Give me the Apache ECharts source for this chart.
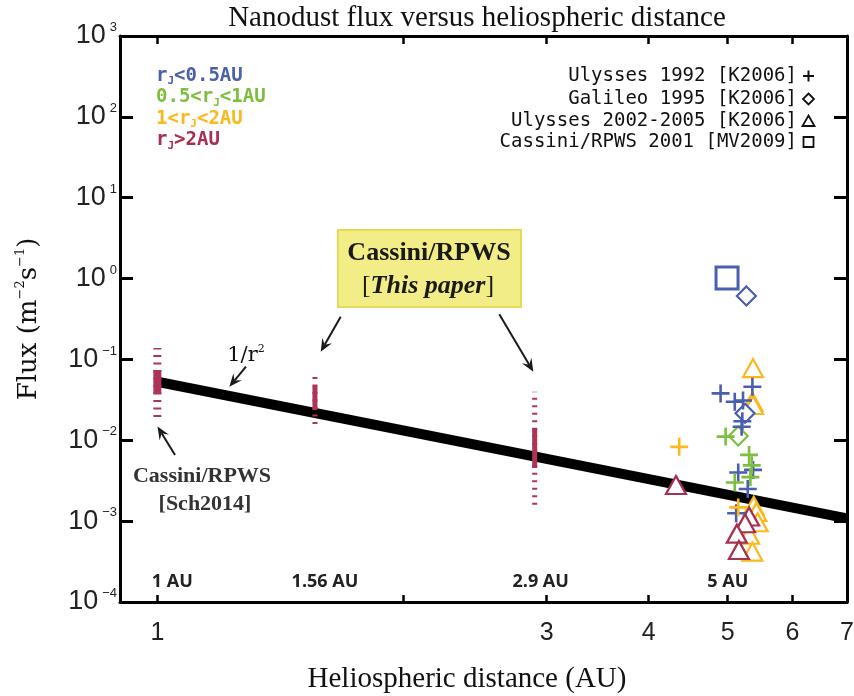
<!DOCTYPE html>
<html>
<head>
<meta charset="utf-8">
<script src="https://cdn.jsdelivr.net/npm/echarts@6/dist/echarts.min.js"></script>
<style>
html,body{margin:0;padding:0;background:#fff;}
#chart{width:854px;height:696px;}
</style>
</head>
<body>
<div id="chart"></div>
<script>
// ---- Cassini/RPWS flux ranges (this paper): distance, solid core range, full dashed range
const cassiniR      = [1, 1.56, 2.9];
const cassiniCoreLo = [0.0374, 0.0237, 0.00454];
const cassiniCoreHi = [0.074, 0.0473, 0.0142];
const cassiniFullLo = [0.0194, 0.0159, 0.00159];
const cassiniFullHi = [0.138, 0.0705, 0.0399];

// ---- 1/r^2 reference line (end points)
const inverseSquareR    = [1, 7];
const inverseSquareFlux = [0.053, 0.00108];

// ---- Earlier measurements near 5 AU: [distance AU, flux m^-2 s^-1]
// grouped by Jovian distance r_J
const ulysses1992Near   = [[4.90,0.038],[5.36,0.046],[5.10,0.030],[5.22,0.031],[5.21,0.0172],[5.20,0.0147],
                           [5.15,0.0040],[5.37,0.0043],[5.29,0.0025],[5.12,0.00125]];
const ulysses1992Mid    = [[4.97,0.0111],[5.31,0.0066],[5.35,0.0049],[5.33,0.0035],[5.10,0.0030]];
const ulysses1992Far    = [[4.36,0.0083],[5.15,0.00148]];
const galileo1995Near   = [[5.27,0.61],[5.25,0.0216]];
const galileo1995Mid    = [[5.15,0.0113]];
const ulysses0205Far    = [[5.37,0.078],[5.36,0.030],[5.37,0.0273],[5.38,0.00155],[5.42,0.0013],
                           [5.44,0.00097],[5.31,0.00068],[5.36,0.00042]];
const ulysses0205Beyond = [[4.32,0.0028],[5.31,0.00114],[5.25,0.00094],[5.13,0.0007],[5.16,0.00044]];
const cassini2001Near   = [[4.99,1.02]];

// ---- axis ticks
const xTickValues  = [1, 2, 3, 4, 5, 6];
const xLabelValues = [1, 3, 4, 5, 6, 7];
const xRange = [0.9, 7];
const yRange = [1e-4, 1e3];

// ---- legend texts
const groupLabels = [
  '{t|r}{j|J}{t|<0.5AU}',
  '{t|0.5<r}{j|J}{t|<1AU}',
  '{t|1<r}{j|J}{t|<2AU}',
  '{t|r}{j|J}{t|>2AU}'
];
const datasetLabels = ['Ulysses 1992 [K2006]', 'Galileo 1995 [K2006]', 'Ulysses 2002-2005 [K2006]', 'Cassini/RPWS 2001 [MV2009]'];
const distanceLabels = ['1 AU', '1.56 AU', '2.9 AU', '5 AU'];
const distanceLabelAt = [1, 1.56, 2.9, 5];

const C_NEAR = '#4a5fad', C_MID = '#7cbf3e', C_FAR = '#fbb91d', C_BEYOND = '#a82f4f';
const C_BAR = '#ad3456';
const groupColors = [C_NEAR, C_MID, C_FAR, C_BEYOND];

const chart = echarts.init(document.getElementById('chart'), null, {renderer: 'canvas'});

const series = [];

// 1/r^2 line
series.push({
  type: 'line', silent: true, symbol: 'none', z: 2,
  data: inverseSquareR.map((r, i) => [r, inverseSquareFlux[i]]),
  lineStyle: {color: '#000', width: 10, cap: 'butt'}
});

// Cassini/RPWS ranges: dashed full range, solid core on top
cassiniR.forEach((r, i) => {
  const w = i === 0 ? 8 : 5;
  series.push({
    type: 'line', silent: true, symbol: 'none', z: 3,
    data: [[r, cassiniFullLo[i]], [r, cassiniFullHi[i]]],
    lineStyle: {color: C_BAR, width: w, type: [2, 5.5], cap: 'butt'}
  });
  series.push({
    type: 'line', silent: true, symbol: 'none', z: 3,
    data: [[r, cassiniCoreLo[i]], [r, cassiniCoreHi[i]]],
    lineStyle: {color: C_BAR, width: w, cap: 'butt'}
  });
});

const PLUS = 'path://M9,0L9,18M0,9L18,9';
function scatter(data, symbol, size, color, lw, fill, z) {
  return {
    type: 'scatter', silent: true, z: z, symbol: symbol, symbolSize: size,
    data: data,
    itemStyle: {color: fill, borderColor: color, borderWidth: lw, opacity: 1}
  };
}
series.push(scatter(ulysses0205Far, 'triangle', [20, 18], C_FAR, 2.2, '#fff', 4));
series.push(scatter(ulysses0205Beyond, 'triangle', [20, 18], C_BEYOND, 2.2, '#fff', 4));
series.push(scatter(galileo1995Near, 'diamond', [19, 19], C_NEAR, 2.2, '#fff', 4));
series.push(scatter(galileo1995Mid, 'diamond', [19, 19], C_MID, 2.2, '#fff', 4));
series.push(scatter(cassini2001Near, 'rect', [22, 22], C_NEAR, 3, '#fff', 4));
series.push(scatter(ulysses1992Near, PLUS, [18, 18], C_NEAR, 2.6, 'rgba(0,0,0,0)', 5));
series.push(scatter(ulysses1992Mid, PLUS, [18, 18], C_MID, 2.6, 'rgba(0,0,0,0)', 5));
series.push(scatter(ulysses1992Far, PLUS, [18, 18], C_FAR, 2.6, 'rgba(0,0,0,0)', 5));

// ---- annotation graphics
function arrow(x1, y1, x2, y2) {
  const a = Math.atan2(y2 - y1, x2 - x1);
  const ux = Math.cos(a), uy = Math.sin(a), px = -uy, py = ux;
  const L = 13, W = 5.5, N = 8;
  const bx = x2 - ux * L, by = y2 - uy * L;
  return [
    {type: 'line', silent: true, z: 20, shape: {x1: x1, y1: y1, x2: x2 - ux * N, y2: y2 - uy * N},
     style: {stroke: '#1a1a1a', lineWidth: 2}},
    {type: 'polygon', silent: true, z: 20,
     shape: {points: [[x2, y2], [bx + px * W, by + py * W], [x2 - ux * N, y2 - uy * N], [bx - px * W, by - py * W]]},
     style: {fill: '#1a1a1a'}}
  ];
}

const graphics = [];
// title
graphics.push({type: 'text', silent: true, x: 477, y: 18,
  style: {text: 'Nanodust flux versus heliospheric distance', font: '29px "Liberation Serif"', fill: '#111',
    align: 'center', verticalAlign: 'middle'}});

// colored group legend (left)
const gy = [76, 97.5, 119, 140.5];
groupLabels.forEach((t, i) => {
  graphics.push({type: 'text', silent: true, x: 156, y: gy[i], z: 20,
    style: {text: t, fill: groupColors[i], verticalAlign: 'middle', align: 'left',
      rich: {
        t: {fontFamily: 'DejaVu Sans Mono', fontWeight: 'bold', fontSize: 19, lineHeight: 22, fill: groupColors[i], verticalAlign: 'middle'},
        j: {fontFamily: 'DejaVu Sans Mono', fontWeight: 'bold', fontSize: 11, lineHeight: 12, fill: groupColors[i], verticalAlign: 'bottom'}
      }}});
});

// dataset legend (right)
const dy = [76, 99, 121, 142];
datasetLabels.forEach((t, i) => {
  graphics.push({type: 'text', silent: true, x: 797, y: dy[i], z: 20,
    style: {text: t, font: '19px "DejaVu Sans Mono"', fill: '#111', align: 'right', verticalAlign: 'middle'}});
});
const sx = 808.5;
graphics.push({type: 'line', silent: true, z: 20, shape: {x1: sx - 5.5, y1: dy[0], x2: sx + 5.5, y2: dy[0]}, style: {stroke: '#111', lineWidth: 2}});
graphics.push({type: 'line', silent: true, z: 20, shape: {x1: sx, y1: dy[0] - 5.5, x2: sx, y2: dy[0] + 5.5}, style: {stroke: '#111', lineWidth: 2}});
graphics.push({type: 'polygon', silent: true, z: 20, shape: {points: [[sx, dy[1] - 5.5], [sx + 5.5, dy[1]], [sx, dy[1] + 5.5], [sx - 5.5, dy[1]]]},
  style: {fill: 'none', stroke: '#111', lineWidth: 1.8}});
graphics.push({type: 'polygon', silent: true, z: 20, shape: {points: [[sx, dy[2] - 5.5], [sx + 6, dy[2] + 5], [sx - 6, dy[2] + 5]]},
  style: {fill: 'none', stroke: '#111', lineWidth: 1.8}});
graphics.push({type: 'rect', silent: true, z: 20, shape: {x: sx - 5, y: dy[3] - 5, width: 10, height: 10},
  style: {fill: 'none', stroke: '#111', lineWidth: 1.8}});

// "This paper" box
graphics.push({type: 'rect', silent: true, z: 19, shape: {x: 338, y: 230, width: 183, height: 77},
  style: {fill: '#f2ed86', stroke: '#e3dc55', lineWidth: 2}});
graphics.push({type: 'text', silent: true, z: 20, x: 429, y: 253,
  style: {text: 'Cassini/RPWS', font: 'bold 26px "Liberation Serif"', fill: '#1a1a1a', align: 'center', verticalAlign: 'middle'}});
graphics.push({type: 'text', silent: true, z: 20, x: 428, y: 286,
  style: {text: '{r|[}{i|This paper}{r|]}', align: 'center', verticalAlign: 'middle',
    rich: {r: {font: '26px "Liberation Serif"', fill: '#1a1a1a'},
           i: {font: 'italic bold 26px "Liberation Serif"', fill: '#1a1a1a'}}}});
graphics.push(...arrow(340.7, 316.7, 320.7, 351.7));
graphics.push(...arrow(499.3, 314.3, 533.3, 371.7));

// Sch2014 label
graphics.push({type: 'text', silent: true, z: 20, x: 202, y: 476,
  style: {text: 'Cassini/RPWS', font: 'bold 22px "Liberation Serif"', fill: '#333', align: 'center', verticalAlign: 'middle'}});
graphics.push({type: 'text', silent: true, z: 20, x: 205, y: 504,
  style: {text: '[Sch2014]', font: 'bold 22px "Liberation Serif"', fill: '#333', align: 'center', verticalAlign: 'middle'}});
graphics.push(...arrow(175, 455, 157.5, 426.5));

// 1/r^2 label
graphics.push({type: 'text', silent: true, z: 20, x: 246, y: 356,
  style: {text: '{a|1/r}{s|2}', align: 'center', verticalAlign: 'middle',
    rich: {a: {font: '21px "DejaVu Serif"', fill: '#111', lineHeight: 24, verticalAlign: 'middle'},
           s: {font: '11px "DejaVu Serif"', fill: '#111', lineHeight: 12, verticalAlign: 'top'}}}});
graphics.push(...arrow(246, 366.7, 229.3, 386.7));

const option = {
  animation: false,
  backgroundColor: '#fff',
  grid: {left: 120, right: 7, top: 36, bottom: 94, containLabel: false, outerBoundsMode: 'none'},
  xAxis: [{
    type: 'log', logBase: 10, min: xRange[0], max: xRange[1], position: 'bottom',
    axisLine: {show: true, onZero: false, lineStyle: {color: '#000', width: 3}},
    axisTick: {show: true, inside: true, length: 7, customValues: xTickValues, lineStyle: {color: '#000', width: 2.5}},
    minorTick: {show: false},
    splitLine: {show: false},
    axisLabel: {show: true, customValues: xLabelValues, margin: 19, color: '#222',
      fontFamily: 'Liberation Sans', fontSize: 25, formatter: v => String(Math.round(v))},
    name: 'Heliospheric distance (AU)', nameLocation: 'middle', nameGap: 63,
    nameTextStyle: {fontFamily: 'Liberation Serif', fontSize: 29, color: '#111', padding: [0, 33, 0, 0]}
  }, {
    type: 'log', logBase: 10, min: xRange[0], max: xRange[1], position: 'top',
    axisLine: {show: true, onZero: false, lineStyle: {color: '#000', width: 3}},
    axisTick: {show: true, inside: true, length: 8, customValues: xTickValues, lineStyle: {color: '#000', width: 2.5}},
    axisLabel: {show: false}, splitLine: {show: false}
  }],
  yAxis: [{
    type: 'log', logBase: 10, min: yRange[0], max: yRange[1], splitNumber: 7, position: 'left',
    axisLine: {show: true, onZero: false, lineStyle: {color: '#000', width: 3}},
    axisTick: {show: true, inside: true, length: 13, lineStyle: {color: '#000', width: 3}},
    minorTick: {show: false},
    splitLine: {show: false},
    axisLabel: {show: true, margin: 3, align: 'right',
      formatter: v => {
        const e = Math.round(Math.log10(v));
        return '{b|10}{s|' + (e < 0 ? '\u2212' + (-e) : e) + '}';
      },
      rich: {
        b: {fontFamily: 'Liberation Sans', fontSize: 27, lineHeight: 30, color: '#222', verticalAlign: 'middle'},
        s: {fontFamily: 'Liberation Sans', fontSize: 13, lineHeight: 14, color: '#222', verticalAlign: 'top', padding: [0, 0, 0, 4]}
      }},
    name: '{a|Flux (m}{s|\u22122}{a|s}{s|\u22121}{a|)}', nameLocation: 'middle', nameGap: 76, nameRotate: 90,
    nameTextStyle: {
      rich: {
        a: {fontFamily: 'DejaVu Serif', fontSize: 26, lineHeight: 30, color: '#111', verticalAlign: 'middle'},
        s: {fontFamily: 'DejaVu Serif', fontSize: 13, lineHeight: 13, color: '#111', verticalAlign: 'top'}
      }}
  }, {
    type: 'log', logBase: 10, min: yRange[0], max: yRange[1], splitNumber: 7, position: 'right',
    axisLine: {show: true, onZero: false, lineStyle: {color: '#000', width: 3}},
    axisTick: {show: true, inside: true, length: 13, lineStyle: {color: '#000', width: 3}},
    axisLabel: {show: false}, splitLine: {show: false}, minorTick: {show: false}
  }],
  series: series,
  graphic: graphics
};
chart.setOption(option);

// distance labels placed on the x scale, nudged to sit beside each bar
const distanceNudge = [15, 10, 6, 0];
const distGraphics = distanceLabels.map((t, i) => {
  const px = chart.convertToPixel({xAxisIndex: 0}, distanceLabelAt[i]) + distanceNudge[i];
  return {type: 'text', silent: true, z: 20, x: px, y: 582,
    style: {text: t, font: 'bold 18px "Open Sans"', fill: '#222', align: 'center', verticalAlign: 'middle'}};
});
chart.setOption({graphic: graphics.concat(distGraphics)});
</script>
</body>
</html>
